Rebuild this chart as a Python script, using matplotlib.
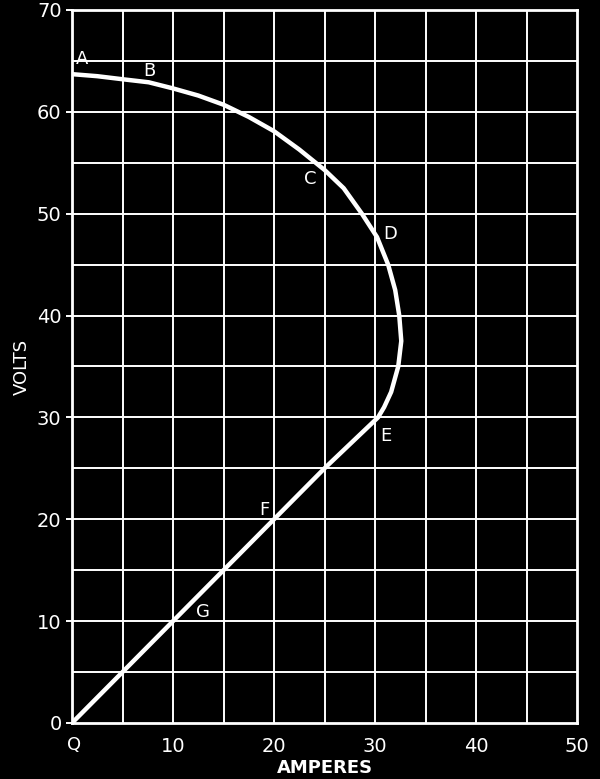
import matplotlib.pyplot as plt
import numpy as np

# volt-ampere curve (amperes, volts), from A round to Q
amperes = [0, 2.5, 5, 7.6, 10, 12.5, 15, 17.5, 20, 22.5, 25, 26.9, 28.7, 30.2,
           31.3, 32.0, 32.4, 32.6, 32.3, 31.6, 30.9, 30.3, 25, 20, 15, 10, 5, 0]
volts = [63.7, 63.5, 63.2, 62.9, 62.3, 61.6, 60.7, 59.5, 58.1, 56.3, 54.3, 52.5,
         50, 47.7, 45, 42.5, 40, 37.5, 35, 32.5, 31, 30, 25, 20, 15, 10, 5, 0]

# lettered points on the curve and where their letters sit
point_names = ["A", "B", "C", "D", "E", "F", "G"]
label_x = [1.0, 7.7, 23.6, 31.5, 31.1, 19.0, 13.0]
label_y = [65.2, 64.0, 53.4, 48.0, 28.2, 20.9, 10.9]

x_ticks = [10, 20, 30, 40, 50]
y_ticks = [0, 10, 20, 30, 40, 50, 60, 70]

fg = "white"
plt.rcParams["font.family"] = ["DejaVu Sans"]

fig = plt.figure(figsize=(6, 7.79), dpi=100, facecolor="black")
ax = fig.add_axes([0.12, 0.0719, 0.8417, 0.9153], facecolor="black")

ax.set_xlim(0, 50)
ax.set_ylim(0, 70)

# grid every 5 units
for gx in np.arange(5, 50, 5):
    ax.axvline(gx, color=fg, linewidth=1.4, zorder=1)
for gy in np.arange(5, 70, 5):
    ax.axhline(gy, color=fg, linewidth=1.4, zorder=1)

for side in ax.spines.values():
    side.set_color(fg)
    side.set_linewidth(2)

ax.plot(amperes, volts, color=fg, linewidth=3.2, solid_capstyle="round",
        solid_joinstyle="round", zorder=3)

for name, lx, ly in zip(point_names, label_x, label_y):
    ax.text(lx, ly, name, color=fg, fontsize=13, ha="center", va="center")

ax.text(0.2, -2.2, "Q", color=fg, fontsize=13, ha="center", va="center",
        clip_on=False)

ax.set_xticks(x_ticks)
ax.set_yticks(y_ticks)
ax.tick_params(colors=fg, labelsize=14, length=4, width=1.4)
ax.tick_params(axis="x", length=0, pad=10)

ax.set_xlabel("AMPERES", color=fg, fontsize=13, fontweight="bold", labelpad=2)
ax.set_ylabel("VOLTS", color=fg, fontsize=13, labelpad=4)

fig.savefig("out.png", dpi=100, facecolor="black")
